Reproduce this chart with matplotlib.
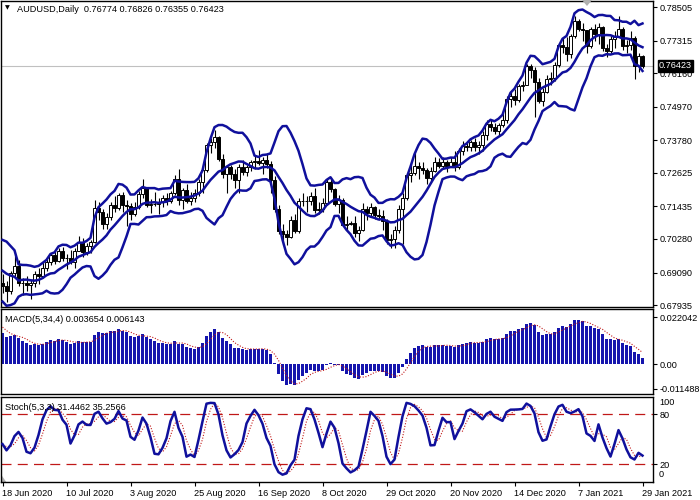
import numpy as np
import matplotlib
matplotlib.use("Agg")
import matplotlib.pyplot as plt
import matplotlib.transforms as mtransforms
from matplotlib.patches import Polygon

plt.rcParams["font.family"] = ["Liberation Sans", "DejaVu Sans"]

# May 1 - Jun 17 2020, only used to warm up the indicators (not drawn)
warm_close = [0.6416, 0.6409, 0.6440, 0.6392, 0.6487, 0.6532, 0.6495, 0.6483, 0.6470, 0.6468,
              0.6403, 0.6525, 0.6544, 0.6580, 0.6554, 0.6538, 0.6566, 0.6655, 0.6625, 0.6646,
              0.6671, 0.6826, 0.6901, 0.6964, 0.6979, 0.6951, 0.6972, 0.6978, 0.7006, 0.6844,
              0.6860, 0.6894, 0.6915, 0.6873]
warm_high = [0.6480, 0.6440, 0.6460, 0.6470, 0.6500, 0.6560, 0.6540, 0.6520, 0.6500, 0.6480,
             0.6470, 0.6540, 0.6580, 0.6610, 0.6600, 0.6570, 0.6590, 0.6680, 0.6660, 0.6680,
             0.6690, 0.6840, 0.6920, 0.6980, 0.7000, 0.7010, 0.7000, 0.7010, 0.7060, 0.7010,
             0.6890, 0.6910, 0.6970, 0.6920]
warm_low = [0.6370, 0.6370, 0.6380, 0.6380, 0.6390, 0.6470, 0.6480, 0.6460, 0.6430, 0.6420,
            0.6400, 0.6400, 0.6510, 0.6540, 0.6540, 0.6520, 0.6530, 0.6560, 0.6610, 0.6600,
            0.6620, 0.6670, 0.6820, 0.6890, 0.6930, 0.6930, 0.6930, 0.6950, 0.6970, 0.6830,
            0.6780, 0.6830, 0.6860, 0.6850]

# daily bars 18 Jun 2020 - 29 Jan 2021
close = [0.6862, 0.6845, 0.6906, 0.6933, 0.6873, 0.6872, 0.6865, 0.6871, 0.6902, 0.6898,
         0.6926, 0.6946, 0.6970, 0.6951, 0.6987, 0.6961, 0.6959, 0.6945, 0.6987, 0.7018,
         0.6983, 0.7003, 0.7019, 0.7139, 0.7125, 0.7083, 0.7106, 0.7150, 0.7139, 0.7183,
         0.7150, 0.7144, 0.7117, 0.7142, 0.7187, 0.7208, 0.7149, 0.7154, 0.7151, 0.7160,
         0.7172, 0.7164, 0.7192, 0.7242, 0.7165, 0.7203, 0.7163, 0.7172, 0.7191, 0.7232,
         0.7272, 0.7362, 0.7374, 0.7389, 0.7313, 0.7258, 0.7282, 0.7260, 0.7238, 0.7284,
         0.7265, 0.7283, 0.7303, 0.7304, 0.7299, 0.7310, 0.7293, 0.7238, 0.7136, 0.7056,
         0.7046, 0.7036, 0.7097, 0.7058, 0.7163, 0.7164, 0.7162, 0.7181, 0.7130, 0.7135,
         0.7157, 0.7232, 0.7205, 0.7154, 0.7166, 0.7079, 0.7083, 0.7085, 0.7049, 0.7059,
         0.7134, 0.7122, 0.7140, 0.7114, 0.7108, 0.7091, 0.7025, 0.7028, 0.7059, 0.7133,
         0.7173, 0.7255, 0.7264, 0.7288, 0.7279, 0.7273, 0.7244, 0.7271, 0.7300, 0.7288,
         0.7303, 0.7288, 0.7300, 0.7285, 0.7339, 0.7357, 0.7355, 0.7372, 0.7356, 0.7361,
         0.7398, 0.7435, 0.7427, 0.7413, 0.7432, 0.7450, 0.7526, 0.7536, 0.7521, 0.7570,
         0.7575, 0.7642, 0.7628, 0.7587, 0.7517, 0.7551, 0.7596, 0.7600, 0.7644, 0.7716,
         0.7710, 0.7684, 0.7747, 0.7803, 0.7775, 0.7770, 0.7713, 0.7775, 0.7754, 0.7782,
         0.7706, 0.7697, 0.7738, 0.7750, 0.7772, 0.7712, 0.7715, 0.7743, 0.7642, 0.76774,
         0.76423]
high = [0.6905, 0.6880, 0.6915, 0.6975, 0.6955, 0.6890, 0.6895, 0.6882, 0.6915, 0.6925,
        0.6945, 0.6958, 0.6980, 0.6985, 0.6995, 0.7000, 0.6975, 0.6990, 0.6995, 0.7040,
        0.7030, 0.7015, 0.7025, 0.7165, 0.7160, 0.7135, 0.7120, 0.7160, 0.7180, 0.7190,
        0.7195, 0.7165, 0.7155, 0.7160, 0.7200, 0.7240, 0.7205, 0.7170, 0.7195, 0.7175,
        0.7185, 0.7190, 0.7200, 0.7255, 0.7275, 0.7210, 0.7225, 0.7195, 0.7205, 0.7240,
        0.7290, 0.7370, 0.7385, 0.7415, 0.7395, 0.7330, 0.7290, 0.7290, 0.7275, 0.7295,
        0.7310, 0.7290, 0.7310, 0.7325, 0.7345, 0.7320, 0.7330, 0.7305, 0.7250, 0.7150,
        0.7080, 0.7060, 0.7110, 0.7115, 0.7175, 0.7190, 0.7180, 0.7195, 0.7210, 0.7160,
        0.7175, 0.7240, 0.7245, 0.7210, 0.7185, 0.7175, 0.7110, 0.7092, 0.7110, 0.7075,
        0.7155, 0.7145, 0.7155, 0.7145, 0.7135, 0.7130, 0.7100, 0.7045, 0.7075, 0.7150,
        0.7190, 0.7260, 0.7300, 0.7340, 0.7300, 0.7300, 0.7280, 0.7285, 0.7320, 0.7315,
        0.7320, 0.7310, 0.7320, 0.7340, 0.7350, 0.7375, 0.7370, 0.7380, 0.7385, 0.7375,
        0.7410, 0.7450, 0.7455, 0.7440, 0.7440, 0.7480, 0.7535, 0.7555, 0.7560, 0.7580,
        0.7590, 0.7650, 0.7650, 0.7640, 0.7600, 0.7565, 0.7610, 0.7620, 0.7655, 0.7725,
        0.7740, 0.7745, 0.7755, 0.7820, 0.7810, 0.7795, 0.7765, 0.7780, 0.7790, 0.7795,
        0.7785, 0.7720, 0.7750, 0.7765, 0.7820, 0.7780, 0.7735, 0.7765, 0.7750, 0.7690,
        0.76826]
low = [0.6835, 0.6805, 0.6832, 0.6890, 0.6862, 0.6830, 0.6845, 0.6815, 0.6858, 0.6870,
       0.6890, 0.6915, 0.6935, 0.6940, 0.6945, 0.6950, 0.6920, 0.6940, 0.6925, 0.6985,
       0.6965, 0.6970, 0.6980, 0.7015, 0.7095, 0.7065, 0.7065, 0.7095, 0.7125, 0.7130,
       0.7125, 0.7075, 0.7095, 0.7110, 0.7135, 0.7175, 0.7140, 0.7120, 0.7145, 0.7115,
       0.7140, 0.7150, 0.7155, 0.7185, 0.7150, 0.7135, 0.7155, 0.7150, 0.7160, 0.7180,
       0.7190, 0.7265, 0.7335, 0.7350, 0.7305, 0.7245, 0.7190, 0.7240, 0.7210, 0.7190,
       0.7255, 0.7250, 0.7270, 0.7275, 0.7290, 0.7260, 0.7280, 0.7190, 0.7125, 0.7045,
       0.7005, 0.7005, 0.7030, 0.7050, 0.7050, 0.7145, 0.7125, 0.7150, 0.7120, 0.7115,
       0.7125, 0.7150, 0.7195, 0.7145, 0.7120, 0.7075, 0.7060, 0.7078, 0.7035, 0.7020,
       0.7055, 0.7095, 0.7110, 0.7100, 0.7095, 0.7060, 0.7010, 0.6995, 0.6995, 0.7050,
       0.7010, 0.7165, 0.7230, 0.7255, 0.7240, 0.7260, 0.7225, 0.7235, 0.7265, 0.7280,
       0.7275, 0.7265, 0.7285, 0.7270, 0.7275, 0.7325, 0.7340, 0.7340, 0.7340, 0.7330,
       0.7340, 0.7380, 0.7410, 0.7400, 0.7395, 0.7425, 0.7440, 0.7495, 0.7505, 0.7515,
       0.7555, 0.7575, 0.7600, 0.7460, 0.7510, 0.7500, 0.7545, 0.7575, 0.7590, 0.7640,
       0.7690, 0.7660, 0.7670, 0.7740, 0.7765, 0.7730, 0.7690, 0.7705, 0.7730, 0.7720,
       0.7695, 0.7675, 0.7690, 0.7705, 0.7745, 0.7700, 0.7690, 0.7700, 0.7595, 0.7620,
       0.76355]

date_ticks = [0, 16, 32, 48, 64, 80, 96, 112, 128, 144, 160]
date_labels = ["18 Jun 2020", "10 Jul 2020", "3 Aug 2020", "25 Aug 2020", "16 Sep 2020",
               "8 Oct 2020", "29 Oct 2020", "20 Nov 2020", "14 Dec 2020", "7 Jan 2021",
               "29 Jan 2021"]
price_ticks = [0.78505, 0.77315, 0.76160, 0.74970, 0.73780, 0.72625, 0.71435,
               0.70280, 0.69090, 0.67935]
macd_ticks = [0.022042, 0.0, -0.011488]
macd_tick_labels = ["0.022042", "0.00", "-0.011488"]
stoch_levels = [80, 20]
header = "AUDUSD,Daily  0.76774 0.76826 0.76355 0.76423"
macd_title = "MACD(5,34,4) 0.003654 0.006143"
stoch_title = "Stoch(5,3,3) 31.4462 35.2566"
last_price = 0.76423

BAND = "#10109c"
HIST = "#1515ad"
RED = "#c01818"
FS = 6.6


def sma(a, n):
    out = np.full(len(a), np.nan)
    for i in range(n - 1, len(a)):
        out[i] = a[i - n + 1:i + 1].mean()
    return out


def ema(a, n):
    k = 2.0 / (n + 1)
    out = np.empty(len(a))
    out[0] = a[0]
    for i in range(1, len(a)):
        out[i] = out[i - 1] + k * (a[i] - out[i - 1])
    return out


c_all = np.array(warm_close + close)
h_all = np.array(warm_high + high)
l_all = np.array(warm_low + low)
nw = len(warm_close)
n = len(close)

# Bollinger bands (10, 2)
mid = sma(c_all, 10)
sd = np.array([np.nan] * 9 + [c_all[i - 9:i + 1].std() for i in range(9, len(c_all))])
upper, lower = mid + 2 * sd, mid - 2 * sd

# MACD (5, 34, 4)
macd = ema(c_all, 5) - ema(c_all, 34)
signal = sma(macd, 4)

# Stochastic (5, 3, 3)
ll = np.array([l_all[max(0, i - 4):i + 1].min() for i in range(len(c_all))])
hh = np.array([h_all[max(0, i - 4):i + 1].max() for i in range(len(c_all))])
num, den = c_all - ll, hh - ll
k_line = np.array([100 * num[max(0, i - 2):i + 1].sum() / den[max(0, i - 2):i + 1].sum()
                   for i in range(len(c_all))])
d_line = sma(k_line, 3)

x = np.arange(n)
o = c_all[nw - 1:-1]
c = np.array(close)

fig = plt.figure(figsize=(7, 5), dpi=100)
left, width = 1 / 700, 652 / 700
ax = fig.add_axes([left, 1 - 307 / 500, width, 306 / 500])
ax_m = fig.add_axes([left, 1 - 394 / 500, width, 85 / 500])
ax_s = fig.add_axes([left, 1 - 482 / 500, width, 85 / 500])

for a in (ax, ax_m, ax_s):
    a.set_xlim(-0.375, 162.625)
    a.yaxis.tick_right()
    a.tick_params(axis="y", direction="out", length=3, width=0.8, pad=2, labelsize=FS)
    a.tick_params(axis="x", bottom=False, labelbottom=False)
    for s in a.spines.values():
        s.set_linewidth(1.0)
        s.set_color("black")

# main price panel
ax.axhline(last_price, color="#c0c0c0", lw=0.8, zorder=1)
up = c >= o
ax.vlines(x, np.array(low), np.array(high), color="black", lw=0.8, zorder=2)
ax.bar(x, np.maximum(np.abs(c - o), 0.00012), bottom=np.minimum(o, c), width=0.6,
       color=np.where(up, "white", "black"), edgecolor="black", linewidth=0.7, zorder=3)
for band in (upper, mid, lower):
    ax.plot(x, band[nw:], color=BAND, lw=1.8, zorder=4)
ax.set_ylim(0.67866, 0.78729)
ax.set_yticks(price_ticks)
ax.set_yticklabels([f"{p:.5f}" for p in price_ticks])
ax.text(0.006, 0.985, "\u25bc", transform=ax.transAxes, fontsize=4.5, va="top",
        family="DejaVu Sans")
ax.text(0.025, 0.988, header, transform=ax.transAxes, fontsize=FS, va="top")
tr = mtransforms.blended_transform_factory(ax.transAxes, ax.transData)
ax.text(1.009, last_price, f"{last_price:.5f}", transform=tr, fontsize=FS, color="white",
        va="center", ha="left", bbox=dict(fc="black", ec="black", pad=0.8), zorder=10)
fig.patches.append(Polygon([[582 / 700, 1.0], [592 / 700, 1.0], [587 / 700, 1 - 6 / 500]],
                           closed=True, fc="#b0b0b0", ec="none", transform=fig.transFigure))

# MACD panel
ax_m.bar(x, macd[nw:], width=0.7, color=HIST, linewidth=0, antialiased=False, zorder=2)
ax_m.plot(x, signal[nw:], color=RED, lw=0.8, ls=(0, (1, 1.5)), zorder=3)
ax_m.set_ylim(-0.01383, 0.02592)
ax_m.set_yticks(macd_ticks)
ax_m.set_yticklabels(macd_tick_labels)
ax_m.text(0.006, 0.93, macd_title, transform=ax_m.transAxes, fontsize=FS, va="top")

# Stochastic panel
for lvl in stoch_levels:
    ax_s.axhline(lvl, color=RED, lw=0.9, ls=(0, (8, 5)), zorder=1)
ax_s.plot(x, d_line[nw:], color=RED, lw=0.8, ls=(0, (1, 1.5)), zorder=2)
ax_s.plot(x, k_line[nw:], color=BAND, lw=1.8, zorder=3)
ax_s.set_ylim(-1.2, 100.7)
ax_s.set_yticks(stoch_levels)
ax_s.set_yticklabels([str(v) for v in stoch_levels])
ax_s.text(1.009, 0.93, "100", transform=ax_s.transAxes, fontsize=FS, va="center")
ax_s.text(1.009, 0.094, "0", transform=ax_s.transAxes, fontsize=FS, va="center")
ax_s.text(0.006, 0.93, stoch_title, transform=ax_s.transAxes, fontsize=FS, va="top")
ax_s.add_patch(Polygon([[0, 0], [0.008, 0], [0, 0.09]], closed=True, fc="#b0b0b0",
                       ec="none", transform=ax_s.transAxes))
ax_s.tick_params(axis="x", bottom=True, labelbottom=True, direction="out", length=3,
                 width=0.8, pad=2, labelsize=FS)
ax_s.set_xticks(date_ticks)
ax_s.set_xticklabels(date_labels)
for lbl in ax_s.get_xticklabels():
    lbl.set_ha("left")

fig.savefig("out.png", dpi=100)
